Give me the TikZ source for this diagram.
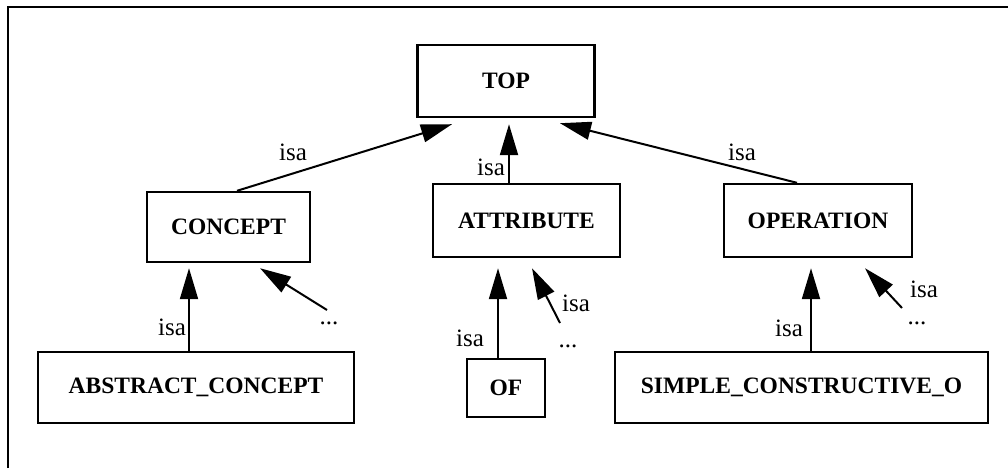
\documentclass[tikz,border=0pt]{standalone}
\usepackage{fontspec}
\setmainfont{Liberation Serif}
\usetikzlibrary{arrows.meta}
\tikzset{
  cls/.style={draw=black, line width=2.4pt, inner sep=0pt, align=center,
    font=\fontsize{23.5}{26}\selectfont\bfseries},
  isa/.style={line width=2pt, -{Triangle[length=31pt,width=18pt]}},
  lbl/.style={inner sep=0pt, font=\fontsize{25}{27}\selectfont},
}
\begin{document}
\begin{tikzpicture}[x=1pt,y=-1pt]
\useasboundingbox (0,0) rectangle (1008,468);
\draw[line width=2pt] (8,468) -- (8,7) -- (1008,7);
% classes
\node[cls, minimum width=177pt, minimum height=72pt] (top) at (506,81) {TOP};
\node[cls, minimum width=163pt, minimum height=70pt] (concept) at (228.5,227) {CONCEPT};
\node[cls, minimum width=187pt, minimum height=73pt] (attr) at (526.5,220.5) {ATTRIBUTE};
\node[cls, minimum width=188pt, minimum height=73pt] (op) at (818,220.5) {OPERATION};
\node[cls, minimum width=316pt, minimum height=71pt] (abs) at (196,387.5) {ABSTRACT\_CONCEPT};
\node[cls, minimum width=78pt, minimum height=58pt] (of) at (506,388) {OF};
\node[cls, minimum width=373pt, minimum height=71pt] (simple) at (801.5,387.5) {SIMPLE\_CONSTRUCTIVE\_O};
% free ends
\coordinate (d1) at (327,310);
\coordinate (d2) at (560,323);
\coordinate (d3) at (902,308);
% connectors
\draw[isa] ([xshift=8.5pt]concept.north) -- ([xshift=-54pt,yshift=-6pt]top.south);
\draw[isa] ([xshift=-17.5pt]attr.north) -- ([xshift=-17.5pt,yshift=-6pt]attr.north |- top.south);
\draw[isa] ([xshift=-21pt]op.north) -- ([xshift=54pt,yshift=-5pt]top.south);
\draw[isa] ([xshift=-7pt]abs.north) -- ([xshift=-7pt,yshift=-5pt]abs.north |- concept.south);
\draw[isa] (d1) -- ([xshift=31.5pt,yshift=-5pt]concept.south);
\draw[isa] ([xshift=-8pt]of.north) -- ([xshift=-8pt,yshift=-10pt]of.north |- attr.south);
\draw[isa] (d2) -- ([xshift=5.5pt,yshift=-10pt]attr.south);
\draw[isa] ([xshift=9.5pt]simple.north) -- ([xshift=9.5pt,yshift=-10pt]simple.north |- op.south);
\draw[isa] (d3) -- ([xshift=47pt,yshift=-10pt]op.south);
% labels
\node[lbl] (l1) at (293,152) {isa};
\node[lbl] (l2) at (491,167) {isa};
\node[lbl] (l3) at (742,152) {isa};
\node[lbl] (l4) at (172,327) {isa};
\node[lbl] (l5) at (329,323) {...};
\node[lbl] (l6) at (470,338) {isa};
\node[lbl] (l7) at (576,303) {isa};
\node[lbl] (l8) at (568,346) {...};
\node[lbl] (l9) at (789,328) {isa};
\node[lbl] (l10) at (924,289) {isa};
\node[lbl] (l11) at (917,323) {...};
\end{tikzpicture}
\end{document}
